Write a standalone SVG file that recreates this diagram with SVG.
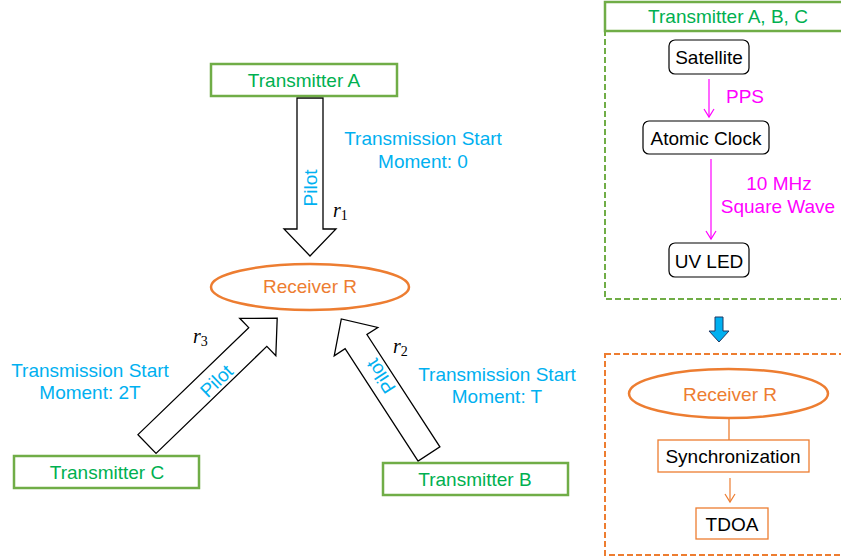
<svg xmlns="http://www.w3.org/2000/svg" width="841" height="560" viewBox="0 0 841 560">
<style>
text{font-family:"Liberation Sans",Arial,sans-serif;font-size:19px;text-anchor:middle}
.g{fill:#00b050}.b{fill:#00b0f0}.o{fill:#ed7d31}.m{fill:#ff00ff}.k{fill:#000}
.gbox{fill:#fff;stroke:#70ad47;stroke-width:2.5}
.blk{fill:#fff;stroke:#000;stroke-width:1.3;stroke-linejoin:miter}
.rr{fill:#fff;stroke:#000;stroke-width:1.2}
.r{font-family:"Liberation Serif","Times New Roman",serif;font-style:italic;font-size:20px;text-anchor:start}
.sub{font-style:normal;font-size:14px}
</style>
<defs>
<marker id="mh" markerWidth="12" markerHeight="12" refX="10" refY="6" orient="auto" markerUnits="userSpaceOnUse">
<path d="M2,1 L10,6 L2,11" fill="none" stroke="#ff00ff" stroke-width="1.2"/>
</marker>
<marker id="oh" markerWidth="12" markerHeight="12" refX="10" refY="6" orient="auto" markerUnits="userSpaceOnUse">
<path d="M2,1 L10,6 L2,11" fill="none" stroke="#ed7d31" stroke-width="1.2"/>
</marker>
</defs>

<g id="connectors">
<g id="arrowA">
<polygon class="blk" points="297,98 323,98 323,229 336,229 310,256 284,229 297,229"/>
<text class="b" transform="translate(310,188) rotate(-90)" y="6.5">Pilot</text>
</g>
<g id="arrowC" transform="translate(147,444) rotate(-44)">
<polygon class="blk" points="0,-13 154,-13 154,-26 181,0 154,26 154,13 0,13"/>
</g>
<text class="b" transform="translate(216.5,381) rotate(-44)" y="6.5">Pilot</text>
<g id="arrowB" transform="translate(429,454) rotate(-123)">
<polygon class="blk" points="0,-13 134,-13 134,-26 161,0 134,26 134,13 0,13"/>
</g>
<text class="b" transform="translate(381,376) rotate(-123)" y="6.5">Pilot</text>
<line x1="709" y1="79" x2="709" y2="117" stroke="#ff00ff" stroke-width="1.2" marker-end="url(#mh)"/>
<line x1="711" y1="159" x2="711" y2="239" stroke="#ff00ff" stroke-width="1.2" marker-end="url(#mh)"/>
<line x1="729" y1="418" x2="729" y2="440" stroke="#ed7d31" stroke-width="1.3"/>
<line x1="730" y1="478" x2="730" y2="502" stroke="#ed7d31" stroke-width="1.2" marker-end="url(#oh)"/>
<polygon points="715,317 723,317 723,331 729,331 719,342 709,331 715,331" fill="#00b0f0" stroke="#1f3864" stroke-width="1"/>
</g>

<g id="labels">
<text class="r" x="333" y="217">r<tspan class="sub" dy="3">1</tspan></text>
<text class="r" x="193" y="343">r<tspan class="sub" dy="3">3</tspan></text>
<text class="r" x="393" y="353">r<tspan class="sub" dy="3">2</tspan></text>
<text class="b" x="423" y="145">Transmission Start</text>
<text class="b" x="423" y="168">Moment: 0</text>
<text class="b" x="90" y="377">Transmission Start</text>
<text class="b" x="90" y="399">Moment: 2T</text>
<text class="b" x="497" y="381">Transmission Start</text>
<text class="b" x="497" y="403">Moment: T</text>
<text class="m" x="745" y="103">PPS</text>
<text class="m" x="779" y="190">10 MHz</text>
<text class="m" x="778" y="213">Square Wave</text>
</g>

<g id="transmitterA">
<rect class="gbox" x="211" y="64" width="186" height="32"/>
<text class="g" x="304" y="87">Transmitter A</text>
</g>
<g id="receiverR">
<ellipse cx="310" cy="287" rx="99" ry="23" fill="#fff" stroke="#ed7d31" stroke-width="2.5"/>
<text class="o" x="310" y="293">Receiver R</text>
</g>
<g id="transmitterC">
<rect class="gbox" x="14" y="456" width="185" height="32"/>
<text class="g" x="107" y="479">Transmitter C</text>
</g>
<g id="transmitterB">
<rect class="gbox" x="383" y="463" width="185" height="32"/>
<text class="g" x="475" y="486">Transmitter B</text>
</g>

<g id="panelTransmitters">
<rect x="605" y="2" width="260" height="297" fill="none" stroke="#70ad47" stroke-width="2" stroke-dasharray="6,3"/>
<rect class="gbox" x="605" y="2" width="260" height="29"/>
<text class="g" x="728" y="23">Transmitter A, B, C</text>
</g>
<g id="satellite">
<rect class="rr" x="669" y="40" width="80" height="34" rx="6"/>
<text class="k" x="709" y="64">Satellite</text>
</g>
<g id="atomicClock">
<rect class="rr" x="643" y="121" width="126" height="33" rx="6"/>
<text class="k" x="706" y="145">Atomic Clock</text>
</g>
<g id="uvLed">
<rect class="rr" x="669" y="243" width="80" height="34" rx="6"/>
<text class="k" x="709" y="268">UV LED</text>
</g>

<g id="panelReceiver">
<rect x="605" y="354" width="260" height="201" fill="none" stroke="#ed7d31" stroke-width="2" stroke-dasharray="6,3"/>
</g>
<g id="receiverR2">
<ellipse cx="728.5" cy="393.5" rx="99.5" ry="24.5" fill="#fff" stroke="#ed7d31" stroke-width="2.5"/>
<text class="o" x="730" y="401">Receiver R</text>
</g>
<g id="synchronization">
<rect x="658" y="440" width="151" height="32" fill="#fff" stroke="#ed7d31" stroke-width="1.3"/>
<text class="k" x="733" y="463">Synchronization</text>
</g>
<g id="tdoa">
<rect x="696" y="508" width="72" height="31" fill="#fff" stroke="#ed7d31" stroke-width="1.3"/>
<text class="k" x="732" y="531">TDOA</text>
</g>
</svg>
